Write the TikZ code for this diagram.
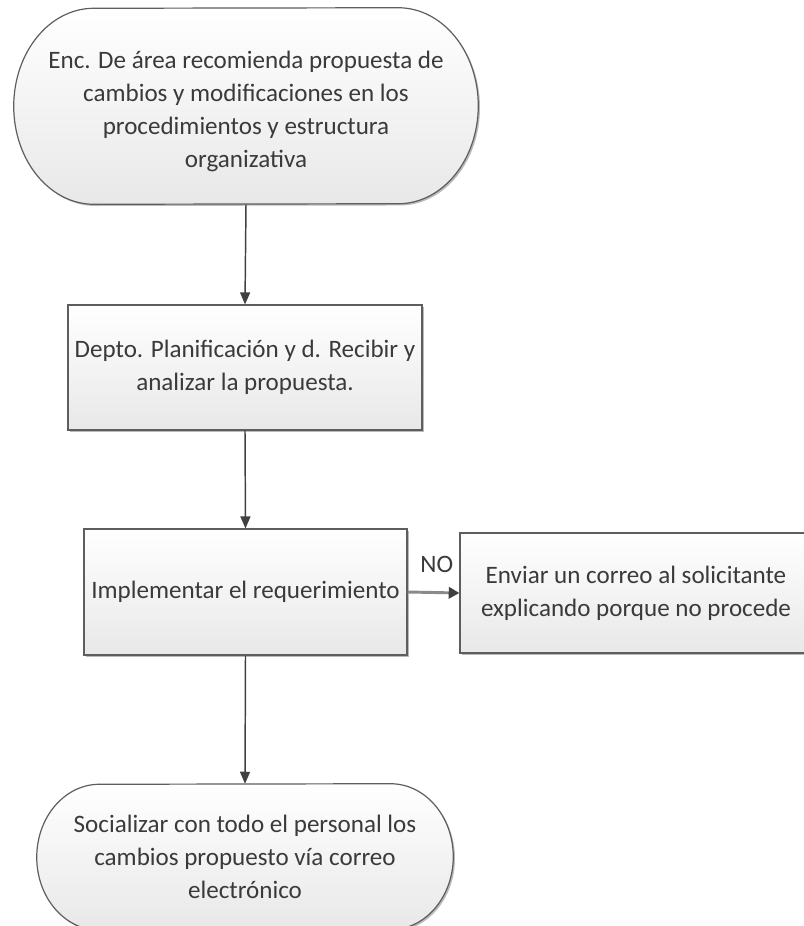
\documentclass[tikz,border=0pt]{standalone}
\usepackage{fontspec}
\setmainfont{Carlito}
\usetikzlibrary{shadows,arrows.meta,backgrounds}
\definecolor{txt}{HTML}{3A3A3A}
\definecolor{edge}{HTML}{5E5E5E}
\definecolor{lnk}{HTML}{404040}
\definecolor{nolink}{HTML}{8A8A8A}
\tikzset{
  every node/.style={font=\fontsize{18.8}{24.75}\selectfont},
  boxfill/.style={draw=edge, line width=0.9pt, top color=white, bottom color=black!9,
    drop shadow={shadow xshift=1.3pt, shadow yshift=-1.3pt, opacity=0.45, fill=black!60}},
  procbox/.style={boxfill, rectangle, align=center, text=txt, inner sep=0pt},
  termtext/.style={rectangle, align=center, text=txt, inner sep=0pt},
  link/.style={draw=lnk, line width=1.1pt, -{Triangle[length=9pt,width=7.5pt]}},
  nolinkst/.style={draw=nolink, line width=2.2pt, -{Triangle[length=8pt,width=8.5pt,color=lnk]}},
  lbl/.style={text=txt, inner sep=1pt},
}
% #1 node, #2 x radius, #3 y radius, #4 upward offset of the outline
\newcommand\drawterm[4]{%
  \path[boxfill] ([xshift=-#2,yshift=#4]#1.north east)
    arc[start angle=90, end angle=-90, x radius=#2, y radius=#3]
    -- ([xshift=#2,yshift=#4]#1.south west)
    arc[start angle=270, end angle=90, x radius=#2, y radius=#3]
    -- cycle;}
\begin{document}
\begin{tikzpicture}[x=0.75pt,y=0.75pt]
\useasboundingbox (0,0) rectangle (804,-926);

\node[termtext, minimum width=348pt, minimum height=147pt] (t1) at (246,-111)
  {Enc. De área recomienda propuesta de\\cambios y modificaciones en los\\procedimientos y estructura\\organizativa};
\node[procbox, minimum width=265.5pt, minimum height=93.75pt] (b2) at (245,-367.5)
  {Depto. Planificación y d. Recibir y\\analizar la propuesta.};
\node[procbox, minimum width=242.25pt, minimum height=94.5pt] (b3) at (245.5,-592)
  {Implementar el requerimiento};
\node[procbox, minimum width=264pt, minimum height=90pt] (b4) at (636,-593)
  {Enviar un correo al solicitante\\explicando porque no procede};
\node[termtext, minimum width=312pt, minimum height=109.5pt] (t2) at (245,-857)
  {Socializar con todo el personal los\\cambios propuesto vía correo\\electrónico};

\begin{scope}[on background layer]
  \drawterm{t1}{60pt}{73.5pt}{3.75pt}
  \drawterm{t2}{47pt}{54.75pt}{0pt}
\end{scope}

\draw[link] ([yshift=3.75pt]t1.south) -- (b2.north);
\draw[link] (b2.south) -- (b3.north);
\draw[link] (b3.south) -- (t2.north);
\draw[nolinkst] (b3.east) -- (b4.west) node[lbl, midway, xshift=2.5pt, yshift=21pt] (no) {NO};
\end{tikzpicture}
\end{document}
